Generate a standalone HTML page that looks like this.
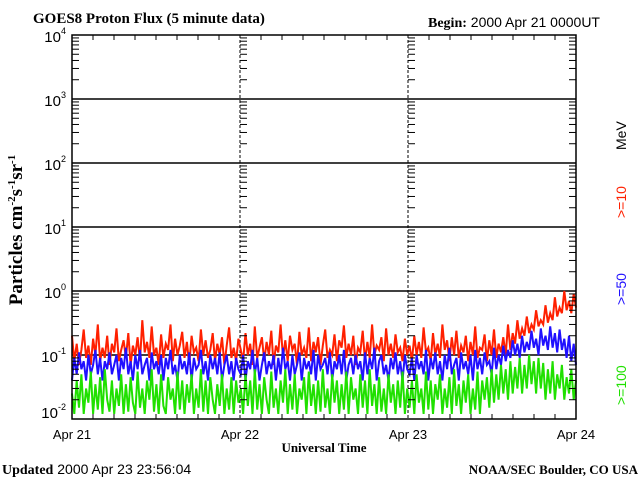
<!DOCTYPE html>
<html><head><meta charset="utf-8"><style>
body{margin:0;background:#fff}
svg{display:block}
.s{font-family:"Liberation Sans",sans-serif}
.r{font-family:"Liberation Serif",serif;font-weight:bold}
</style></head><body>
<svg id="c" width="640" height="480" viewBox="0 0 640 480">
<text class="r" x="33" y="23" font-size="15">GOES8 Proton Flux (5 minute data)</text>
<text x="428" y="27" font-size="14"><tspan class="r">Begin:</tspan><tspan class="s"> 2000 Apr 21 0000UT</tspan></text>
<text class="r" x="0" y="0" font-size="19" transform="translate(22,230) rotate(-90)" text-anchor="middle">Particles cm<tspan dy="-7" font-size="11">-2</tspan><tspan dy="7">s</tspan><tspan dy="-7" font-size="11">-1</tspan><tspan dy="7">sr</tspan><tspan dy="-7" font-size="11">-1</tspan></text>
<text class="r" x="324" y="452" font-size="13" text-anchor="middle">Universal Time</text>
<text x="2" y="474" font-size="14"><tspan class="r">Updated</tspan><tspan class="s"> 2000 Apr 23 23:56:04</tspan></text>
<text class="r" x="638" y="474" font-size="13" text-anchor="end">NOAA/SEC Boulder, CO USA</text>
<g class="s" font-size="14">
<text transform="translate(626,150) rotate(-90)" fill="#000">MeV</text>
<text transform="translate(626,218) rotate(-90)" fill="#ff2000">&gt;=10</text>
<text transform="translate(626,305) rotate(-90)" fill="#2010ff">&gt;=50</text>
<text transform="translate(626,405) rotate(-90)" fill="#20e000">&gt;=100</text>
</g>
<g id="grid"></g><g id="series"></g><g id="axes"></g>
</svg>
<script>
const xLabels=["Apr 21","Apr 22","Apr 23","Apr 24"];
const yExps=[-2,-1,0,1,2,3,4];
const red=[0.2,0.08,0.15,0.07,0.12,0.25,0.09,0.14,0.07,0.18,0.1,0.3,0.08,0.13,0.09,0.2,0.07,0.15,0.11,0.26,0.08,0.12,0.17,0.09,0.22,0.07,0.14,0.1,0.19,0.08,0.35,0.11,0.16,0.09,0.28,0.1,0.13,0.07,0.21,0.09,0.15,0.12,0.3,0.08,0.18,0.1,0.14,0.23,0.09,0.16,0.07,0.2,0.11,0.13,0.08,0.25,0.1,0.17,0.09,0.12,0.22,0.08,0.15,0.1,0.19,0.07,0.14,0.27,0.09,0.13,0.08,0.18,
0.12,0.08,0.22,0.1,0.15,0.07,0.28,0.09,0.13,0.19,0.08,0.16,0.1,0.24,0.07,0.14,0.11,0.3,0.09,0.17,0.08,0.2,0.12,0.15,0.07,0.23,0.1,0.13,0.09,0.27,0.08,0.16,0.11,0.19,0.07,0.14,0.25,0.09,0.12,0.1,0.21,0.08,0.17,0.13,0.29,0.09,0.15,0.1,0.2,0.07,0.13,0.11,0.24,0.08,0.16,0.09,0.3,0.1,0.14,0.12,0.19,0.08,0.26,0.1,0.15,0.09,0.21,0.11,0.13,0.08,0.18,0.1,
0.14,0.08,0.2,0.1,0.16,0.09,0.27,0.11,0.13,0.08,0.22,0.1,0.15,0.09,0.3,0.12,0.17,0.08,0.19,0.1,0.24,0.09,0.14,0.11,0.2,0.08,0.16,0.1,0.28,0.09,0.13,0.12,0.21,0.08,0.17,0.1,0.25,0.09,0.15,0.11,0.19,0.1,0.3,0.12,0.22,0.15,0.35,0.18,0.26,0.2,0.4,0.22,0.3,0.25,0.5,0.28,0.35,0.3,0.6,0.32,0.45,0.35,0.8,0.4,0.55,0.45,1.0,0.5,0.7,0.45,0.9,0.55];
const blue=[0.04,0.09,0.05,0.11,0.06,0.08,0.04,0.1,0.05,0.07,0.12,0.05,0.09,0.04,0.08,0.06,0.11,0.05,0.07,0.1,0.04,0.09,0.06,0.13,0.05,0.08,0.04,0.1,0.06,0.12,0.05,0.07,0.09,0.04,0.11,0.06,0.08,0.05,0.1,0.04,0.09,0.06,0.12,0.05,0.07,0.04,0.1,0.06,0.08,0.05,0.11,0.04,0.09,0.06,0.07,0.12,0.05,0.08,0.04,0.1,0.06,0.09,0.05,0.11,0.04,0.07,0.1,0.05,0.08,0.04,0.09,0.06,
0.05,0.1,0.04,0.08,0.06,0.12,0.05,0.09,0.04,0.07,0.11,0.05,0.08,0.06,0.1,0.04,0.09,0.05,0.13,0.06,0.08,0.04,0.1,0.05,0.07,0.11,0.04,0.09,0.06,0.08,0.05,0.12,0.04,0.1,0.06,0.07,0.09,0.05,0.11,0.04,0.08,0.06,0.1,0.05,0.12,0.04,0.07,0.09,0.05,0.1,0.06,0.08,0.04,0.11,0.05,0.09,0.06,0.13,0.04,0.08,0.1,0.05,0.07,0.04,0.09,0.06,0.11,0.05,0.08,0.04,0.1,0.06,
0.05,0.09,0.04,0.1,0.06,0.08,0.05,0.12,0.04,0.09,0.06,0.11,0.05,0.08,0.04,0.1,0.06,0.13,0.05,0.07,0.09,0.04,0.11,0.06,0.08,0.05,0.1,0.04,0.12,0.06,0.09,0.05,0.11,0.07,0.08,0.05,0.13,0.06,0.1,0.07,0.14,0.08,0.12,0.09,0.17,0.1,0.15,0.09,0.2,0.11,0.16,0.12,0.24,0.13,0.18,0.1,0.26,0.14,0.2,0.12,0.28,0.13,0.22,0.11,0.25,0.12,0.18,0.09,0.2,0.08,0.15,0.07];
const green=[0.025,0.012,0.04,0.015,0.05,0.012,0.03,0.018,0.055,0.012,0.035,0.014,0.045,0.012,0.06,0.02,0.013,0.04,0.012,0.03,0.016,0.05,0.012,0.035,0.013,0.045,0.018,0.012,0.055,0.015,0.03,0.012,0.04,0.02,0.06,0.013,0.035,0.012,0.05,0.016,0.012,0.045,0.02,0.03,0.012,0.055,0.014,0.04,0.012,0.035,0.018,0.05,0.012,0.03,0.015,0.06,0.013,0.04,0.012,0.045,0.02,0.012,0.035,0.016,0.05,0.012,0.03,0.014,0.045,0.012,0.04,0.018,
0.03,0.012,0.05,0.016,0.04,0.012,0.06,0.014,0.035,0.012,0.045,0.02,0.012,0.055,0.015,0.03,0.012,0.04,0.018,0.06,0.012,0.035,0.014,0.05,0.012,0.03,0.02,0.045,0.012,0.055,0.016,0.035,0.012,0.04,0.013,0.06,0.015,0.03,0.012,0.05,0.018,0.04,0.012,0.035,0.014,0.055,0.012,0.045,0.02,0.03,0.012,0.05,0.015,0.04,0.012,0.06,0.016,0.035,0.012,0.045,0.013,0.03,0.012,0.05,0.018,0.035,0.012,0.04,0.015,0.055,0.012,0.03,
0.015,0.04,0.012,0.05,0.018,0.03,0.012,0.055,0.014,0.04,0.012,0.035,0.02,0.05,0.012,0.03,0.015,0.045,0.012,0.06,0.016,0.035,0.012,0.04,0.018,0.05,0.012,0.03,0.014,0.055,0.012,0.04,0.02,0.045,0.015,0.06,0.018,0.05,0.02,0.07,0.025,0.06,0.02,0.08,0.025,0.065,0.03,0.09,0.025,0.07,0.03,0.1,0.035,0.08,0.025,0.09,0.03,0.075,0.02,0.06,0.025,0.08,0.02,0.05,0.03,0.07,0.02,0.045,0.025,0.06,0.02,0.04];

const NS="http://www.w3.org/2000/svg";
const L=72,R=576,T=35,B=419;
const xs=f=>L+f*(R-L);
const ys=v=>B-(Math.log10(v)+2)*(B-T)/6;
function mk(p,tag,a){const e=document.createElementNS(NS,tag);for(const k in a)e.setAttribute(k,a[k]);p.appendChild(e);return e;}
const grid=document.getElementById('grid'),axes=document.getElementById('axes'),ser=document.getElementById('series');

yExps.forEach(ex=>{const y=ys(Math.pow(10,ex));
 if(ex>-2&&ex<4){const g=mk(grid,'line',{x1:L,x2:R,y1:y,y2:y,stroke:'#000','stroke-width':1.5});
  
  }
 const ly=ex===-2?y-1:y+7;
 const t=mk(axes,'text',{x:L-6,y:ly,'text-anchor':'end','font-size':15,'class':'s'});
 
 
 t.textContent='10';const sp=mk(t,'tspan',{dy:-8,'font-size':9});sp.textContent=String(ex);
});
const tickXs=[0,1/3,2/3,1];
for(let ex=-2;ex<4;ex++)for(let m=2;m<=9;m++){const y=ys(m*Math.pow(10,ex));
 tickXs.forEach((f,i)=>{const x=xs(f);const len=7;
  if(i===3)mk(axes,'line',{x1:x-len,x2:x,y1:y,y2:y,stroke:'#000'});
  else mk(axes,'line',{x1:x,x2:x+len,y1:y,y2:y,stroke:'#000'});
 });}
[1/3,2/3].forEach(f=>{const d=mk(grid,'line',{x1:xs(f),x2:xs(f),y1:T,y2:B,stroke:'#000','stroke-dasharray':'3,2'});
 
 });
for(let h=0;h<=72;h+=3){const x=xs(h/72);const len=h%24===0?0:5;
 mk(axes,'line',{x1:x,x2:x,y1:B,y2:B-len,stroke:'#000'});
 mk(axes,'line',{x1:x,x2:x,y1:T,y2:T+len,stroke:'#000'});}
xLabels.forEach((s,i)=>{const t=mk(axes,'text',{x:xs(i/3),y:439,'text-anchor':'middle','font-size':13,'class':'s'});
 
 
 t.textContent=s;});
const fr=mk(axes,'rect',{x:L,y:T,width:R-L,height:B-T,fill:'none',stroke:'#000','stroke-width':1.5});


function line(arr,col,name){const n=arr.length;
 const pts=arr.map((v,i)=>xs(i/(n-1)).toFixed(1)+','+ys(v).toFixed(1)).join(' ');
 const p=mk(ser,'polyline',{points:pts,fill:'none',stroke:col,'stroke-width':2,'stroke-linejoin':'miter'});
 
 }
line(red,'#ff2000','series-ge10');
line(blue,'#2010ff','series-ge50');
line(green,'#20e000','series-ge100');
</script>
</body></html>
